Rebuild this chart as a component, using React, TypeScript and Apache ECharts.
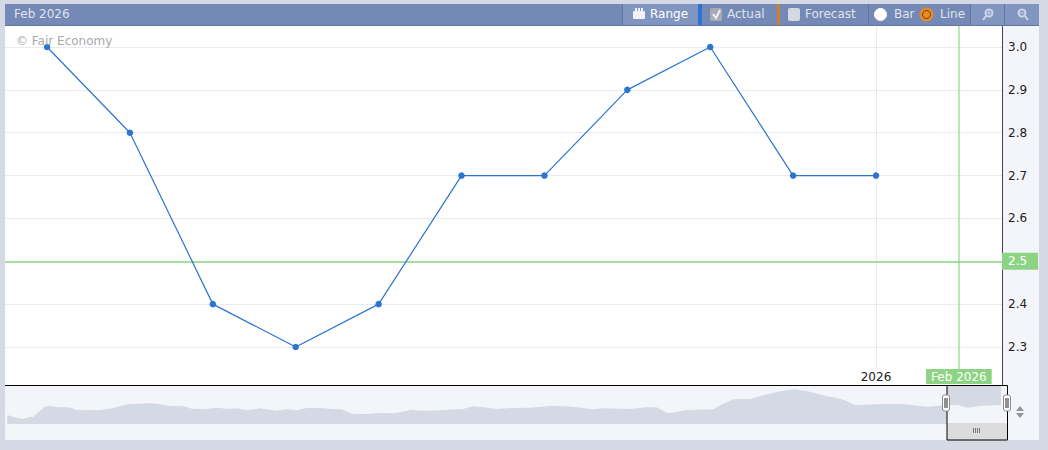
import React, { useEffect, useRef } from "react";
import * as echarts from "echarts";

const months = ["Mar 2025","Apr 2025","May 2025","Jun 2025","Jul 2025","Aug 2025","Sep 2025","Oct 2025","Nov 2025","Dec 2025","Jan 2026","Feb 2026"];
const actual = [3.0,2.8,2.4,2.3,2.4,2.7,2.7,2.9,3.0,2.7,2.7,null];
const yTicks = [2.3,2.4,2.5,2.6,2.7,2.8,2.9,3.0];
const currentMonth = "Feb 2026";
const yearMonth = "Jan 2026";
const currentLevel = 2.5;

const navPos = [2.3,10,17.7,23.3,28.3,33.3,40,45,51.7,61.7,66.7,71.7,81.7,95,108.3,118.3,125,135,145,155,165,178.3,186.7,198.3,211.7,221.7,231.7,241.7,255,271.7,281.7,291.7,301.7,315,328.3,336.7,346.7,361.7,375,388.3,398.3,406.7,415,425,441.7,458.3,468.3,478.3,491.7,505,525,545,561.7,571.7,588.3,598.3,625,641.7,651.7,661.7,666.7,681.7,708.3,718.3,728.3,745,758.3,775,790,805,821.7,831.7,841.7,850,856.3,876.3,896.3,923,941.3,953,963,976.3,996];
const navLevel = [9.3,7,5.3,7,7.6,12,17.6,18.6,17,17,16.3,14.3,14,14.3,16,19,20.3,20.6,21.3,20,18.3,18,15.6,15,16.6,15.6,16,14,16,13.6,15,14,16.3,16.3,15.3,15,10.6,10.3,11.3,11,12.6,14.6,13.6,13.6,14.6,15.3,18,17,15.3,16.3,16.6,18.3,18,17,15,16,15.3,17,17,11.6,11.3,14.3,15,20.6,25,25.3,29,33,35,32.6,28,26.6,23.3,19,19.3,20.3,20.3,17.6,19.3,19.3,16.6,18.6,19.3];

const FONT = "'DejaVu Sans', sans-serif";
const PAGE = "#d5d9e3";
const PANEL = "#f4f5fa";
const HEAD = "#7489b5";
const HEAD_LIGHT = "#8095bf";
const SEP = "#5f75a6";
const HEAD_TEXT = "#dfe4ef";
const GREEN = "#8cd484";
const GREEN_LINE = "#a4dfa0";
const GRID = "#e9ebf3";
const BLUE = "#2b74d0";
const Y_TOP = 3.049;
const Y_BOTTOM = 2.2113;
const Y_CROSS = 2.2487;
const X_MIN = -0.507;
const X_MAX = 11.52;

const rect = (x: number, y: number, w: number, h: number, fill: string, z = 5, r = 0): any => ({
  type: "rect", z, silent: true, shape: { x, y, width: w, height: h, r }, style: { fill },
});
const txt = (x: number, y: number, text: string, fill: string, z = 6): any => ({
  type: "text", z, silent: true, x, y,
  style: { text, fill, font: `12px ${FONT}`, textVerticalAlign: "middle", verticalAlign: "middle" },
});
const seg = (x1: number, y1: number, x2: number, y2: number, stroke: string, lineWidth = 1, z = 6): any => ({
  type: "line", z, silent: true, shape: { x1, y1, x2, y2 }, style: { stroke, lineWidth },
});
const dot = (cx: number, cy: number, r: number, fill: string, stroke: string, lineWidth = 1, z = 6): any => ({
  type: "circle", z, silent: true, shape: { cx, cy, r }, style: { fill, stroke, lineWidth },
});
const handle = (x: number): any[] => [
  { type: "rect", z: 9, silent: true, shape: { x: x - 3.5, y: 395, width: 7, height: 16, r: 2 }, style: { fill: "#fff", stroke: "#8a8d94", lineWidth: 1 } },
  seg(x - 1, 398, x - 1, 408, "#222", 1, 10),
  seg(x + 1, 398, x + 1, 408, "#222", 1, 10),
];

const graphics: any[] = [
  rect(1002, 26, 37, 414, PANEL, -1),
  rect(5, 386, 1034, 54, PANEL, -1),
  // header
  rect(5, 4, 1034, 21, HEAD),
  rect(5, 25, 1034, 1, "#5f75a6"),
  rect(623, 4, 75, 21, HEAD_LIGHT),
  rect(698, 4, 4, 21, BLUE),
  rect(777, 4, 3, 21, "#c8812e"),
  rect(970, 4, 69, 21, HEAD_LIGHT),
  seg(622.5, 4, 622.5, 25, SEP),
  seg(868.5, 4, 868.5, 25, SEP),
  seg(970.5, 4, 970.5, 25, SEP),
  seg(1004.5, 4, 1004.5, 25, SEP),
  txt(14, 14, currentMonth, HEAD_TEXT),
  // range icon
  rect(633, 11, 12, 8, "#f0f2f8", 6, 1),
  rect(635, 8, 2, 3, "#f0f2f8", 6),
  rect(638, 8, 2, 3, "#f0f2f8", 6),
  rect(641, 8, 2, 3, "#f0f2f8", 6),
  txt(650, 14, "Range", "#ffffff"),
  // actual
  rect(710, 8, 12, 13, "#a7abb3", 6, 2),
  { type: "polyline", z: 7, silent: true, shape: { points: [[713, 14], [716, 18], [720, 10]] }, style: { stroke: "#eef0f5", lineWidth: 2, fill: "none" } },
  txt(727, 14, "Actual", HEAD_TEXT),
  // forecast
  rect(788, 8, 12, 13, "#d5d9e3", 6, 2),
  txt(805, 14, "Forecast", HEAD_TEXT),
  // bar / line
  dot(880.5, 14.5, 6, "#ffffff", "#ffffff"),
  txt(894, 14, "Bar", HEAD_TEXT),
  dot(926.5, 14.5, 6.5, "#ee8a1e", "#ee8a1e"),
  dot(926.5, 14.5, 4, "#ee8a1e", "#4a4030", 1, 7),
  txt(940, 14, "Line", HEAD_TEXT),
  // zoom icons
  dot(989, 13, 3.5, "none", "#cdd5e6", 2),
  seg(986, 16, 983, 20, "#cdd5e6", 2),
  seg(987, 13, 991, 13, "#cdd5e6", 1),
  seg(989, 11, 989, 15, "#cdd5e6", 1),
  dot(1022, 13, 3.5, "none", "#cdd5e6", 2),
  seg(1025, 16, 1028, 20, "#cdd5e6", 2),
  seg(1019, 13, 1025, 13, "#cdd5e6", 1),
  // watermark
  txt(16, 41, "\u00a9 Fair Economy", "#a9a9a9", 7),
  // navigator frame
  rect(947, 423, 60, 17, "#dcdcdc", 7),
  seg(5, 385.5, 947, 385.5, "#000", 1, 8),
  { type: "rect", z: 8, silent: true, shape: { x: 947, y: 385.5, width: 60.5, height: 54.5 }, style: { fill: "none", stroke: "#000", lineWidth: 1 } },
  ...handle(946),
  ...handle(1007),
  seg(973.5, 428, 973.5, 433, "#777", 1, 9),
  seg(975.5, 428, 975.5, 433, "#777", 1, 9),
  seg(977.5, 428, 977.5, 433, "#777", 1, 9),
  seg(979.5, 428, 979.5, 433, "#777", 1, 9),
  { type: "polygon", z: 6, silent: true, shape: { points: [[1016, 411], [1024, 411], [1020, 406]] }, style: { fill: "#8f949e" } },
  { type: "polygon", z: 6, silent: true, shape: { points: [[1016, 413], [1024, 413], [1020, 418]] }, style: { fill: "#8f949e" } },
];

const navData = navPos.map((p, i) => [p, navLevel[i]]);
const seriesData = actual.map((v, i) => [i, v]);
const currentIdx = months.indexOf(currentMonth);
const yearIdx = months.indexOf(yearMonth);

export default function App() {
  const ref = useRef<HTMLDivElement>(null);
  useEffect(() => {
    const chart = echarts.init(ref.current!, null, { renderer: "svg" });
    chart.setOption({
      animation: false,
      backgroundColor: PAGE,
      textStyle: { fontFamily: FONT },
      graphic: graphics,
      grid: [
        { left: 5, top: 26, width: 997, height: 359, show: true, backgroundColor: "#fff", borderWidth: 0 },
        { left: 5, top: 386, width: 942, height: 38.3, borderWidth: 0 },
        { left: 947, top: 386, width: 54, height: 38.3, borderWidth: 0 },
      ],
      xAxis: [
        {
          type: "value", gridIndex: 0, min: X_MIN, max: X_MAX,
          axisLine: { show: false, onZero: false }, axisTick: { show: false, customValues: [yearIdx] }, splitLine: { show: false },
          axisLabel: {
            inside: true, margin: 2, color: "#222", fontSize: 12, fontFamily: FONT,
            customValues: [yearIdx], showMinLabel: true, showMaxLabel: true,
            formatter: (v: number) => months[Math.round(v)].slice(-4),
          },
        },
        { type: "value", gridIndex: 1, min: 0, max: 942, show: false },
        { type: "value", gridIndex: 2, min: 942, max: 996, show: false },
      ],
      yAxis: [
        {
          type: "value", gridIndex: 0, position: "right", min: Y_BOTTOM, max: Y_TOP,
          axisLine: { show: true, onZero: false, lineStyle: { color: "#444", width: 1 } },
          axisTick: { show: false, customValues: yTicks },
          splitLine: { show: true, lineStyle: { color: GRID, width: 1 } },
          axisLabel: {
            customValues: yTicks, color: "#222", fontSize: 12, fontFamily: FONT, margin: 6,
            formatter: (v: number) => v.toFixed(1),
          },
        },
        { type: "value", gridIndex: 1, min: 0, max: 38.3, show: false },
        { type: "value", gridIndex: 2, min: 0, max: 38.3, show: false },
      ],
      series: [
        {
          type: "line", xAxisIndex: 0, yAxisIndex: 0, data: seriesData, connectNulls: false,
          symbol: "circle", symbolSize: 6.5, showSymbol: true, clip: false,
          lineStyle: { color: BLUE, width: 1.2 }, itemStyle: { color: BLUE }, z: 4,
          markLine: {
            silent: true, symbol: "none", animation: false, z: 3,
            data: [
              [
                { xAxis: yearIdx, yAxis: Y_CROSS, lineStyle: { color: GRID, width: 1, type: "solid" }, label: { show: false } },
                { xAxis: yearIdx, yAxis: Y_TOP },
              ],
              [
                {
                  xAxis: currentIdx, yAxis: Y_CROSS,
                  lineStyle: { color: GREEN_LINE, width: 1.5, type: "solid" },
                  label: {
                    show: true, position: "start", distance: 0, formatter: currentMonth,
                    color: "#fff", backgroundColor: GREEN, fontSize: 12, fontFamily: FONT,
                    padding: [2, 5, 1, 5],
                  },
                },
                { xAxis: currentIdx, yAxis: Y_TOP },
              ],
              [
                {
                  xAxis: X_MIN, yAxis: currentLevel,
                  lineStyle: { color: GREEN, width: 1.5, type: "solid" },
                  label: {
                    show: true, position: "end", distance: 0,
                    formatter: currentLevel.toFixed(1), color: "#fff", backgroundColor: GREEN,
                    fontSize: 12, fontFamily: FONT, padding: [3, 11, 2, 6],
                  },
                },
                { xAxis: X_MAX, yAxis: currentLevel },
              ],
            ],
          },
        },
        {
          type: "line", xAxisIndex: 1, yAxisIndex: 1, data: navData, symbol: "none", silent: true,
          lineStyle: { width: 0 }, areaStyle: { color: PAGE, opacity: 1 }, z: 2,
        },
        {
          type: "line", xAxisIndex: 2, yAxisIndex: 2, data: navData, symbol: "none", silent: true,
          lineStyle: { width: 0 }, areaStyle: { color: PAGE, opacity: 1, origin: "end" }, z: 2,
        },
      ],
    });
    return () => chart.dispose();
  }, []);
  return <div ref={ref} style={{ position: "fixed", left: 0, top: 0, width: 1048, height: 450 }} />;
}
